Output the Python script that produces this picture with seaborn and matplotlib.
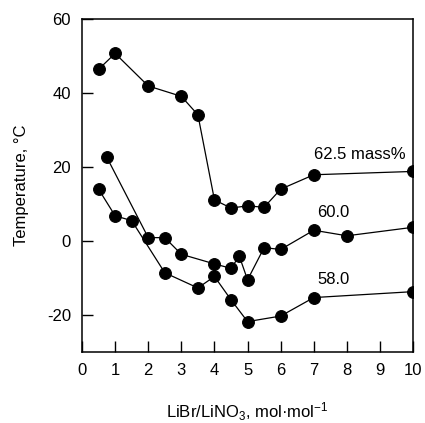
import matplotlib
matplotlib.use("Agg")
import matplotlib.pyplot as plt
import seaborn as sns
import pandas as pd

# Data
x_625 = [0.5, 1.0, 2.0, 3.0, 3.5, 4.0, 4.5, 5.0, 5.5, 6.0, 7.0, 10.0]
y_625 = [46.4, 50.7, 41.9, 39.1, 34.1, 11.1, 8.9, 9.5, 9.1, 14.0, 17.9, 18.8]

x_600 = [0.75, 2.0, 2.5, 3.0, 4.0, 4.5, 4.75, 5.0, 5.5, 6.0, 7.0, 8.0, 10.0]
y_600 = [22.6, 0.9, 0.9, -3.6, -6.2, -7.4, -4.1, -10.5, -1.8, -2.3, 2.9, 1.4, 3.7]

x_580 = [0.5, 1.0, 1.5, 2.5, 3.5, 4.0, 4.5, 5.0, 6.0, 7.0, 10.0]
y_580 = [14.0, 6.8, 5.5, -8.6, -12.7, -9.6, -15.9, -21.8, -20.3, -15.3, -13.7]

series_labels = ["62.5 mass%", "60.0", "58.0"]
xticks = [0, 1, 2, 3, 4, 5, 6, 7, 8, 9, 10]
yticks = [-20, 0, 20, 40, 60]

sns.set_theme(style="ticks")
plt.rcParams["font.family"] = ["Liberation Sans", "DejaVu Sans"]
plt.rcParams["mathtext.fontset"] = "custom"
plt.rcParams["mathtext.rm"] = "Liberation Sans"
plt.rcParams["mathtext.it"] = "Liberation Sans"
plt.rcParams["axes.unicode_minus"] = False
plt.rcParams["text.color"] = "black"
plt.rcParams["axes.labelcolor"] = "black"

df = pd.concat([
    pd.DataFrame({"x": x_625, "y": y_625, "s": series_labels[0]}),
    pd.DataFrame({"x": x_600, "y": y_600, "s": series_labels[1]}),
    pd.DataFrame({"x": x_580, "y": y_580, "s": series_labels[2]}),
])

fig = plt.figure(figsize=(4.25, 4.23), dpi=100)
ax = fig.add_axes([0.193, 0.168, 0.779, 0.787])

sns.lineplot(data=df, x="x", y="y", hue="s", units="s", estimator=None, sort=False,
             palette=["black"] * 3, marker="o", markersize=8.5, markeredgecolor="black",
             linewidth=0.9, legend=False, ax=ax)

ax.set_xlim(0, 10)
ax.set_ylim(-30, 60)
ax.set_xticks(xticks)
ax.set_yticks(yticks)
ax.tick_params(direction="in", length=8, width=1, labelsize=12, color="black",
               labelcolor="black", pad=8)
for sp in ax.spines.values():
    sp.set_visible(True)
    sp.set_color("black")
    sp.set_linewidth(1.1)

ax.set_xlabel(r"LiBr/LiNO$_3$, mol·mol$^{\mathregular{-1}}$", fontsize=12, labelpad=16)
ax.set_ylabel("Temperature, °C", fontsize=12, labelpad=13)

ax.text(8.4, 23.5, series_labels[0], fontsize=12, ha="center", va="center", color="black")
ax.text(7.6, 7.8, series_labels[1], fontsize=12, ha="center", va="center", color="black")
ax.text(7.6, -10.4, series_labels[2], fontsize=12, ha="center", va="center", color="black")

fig.savefig("out.png", dpi=100)
